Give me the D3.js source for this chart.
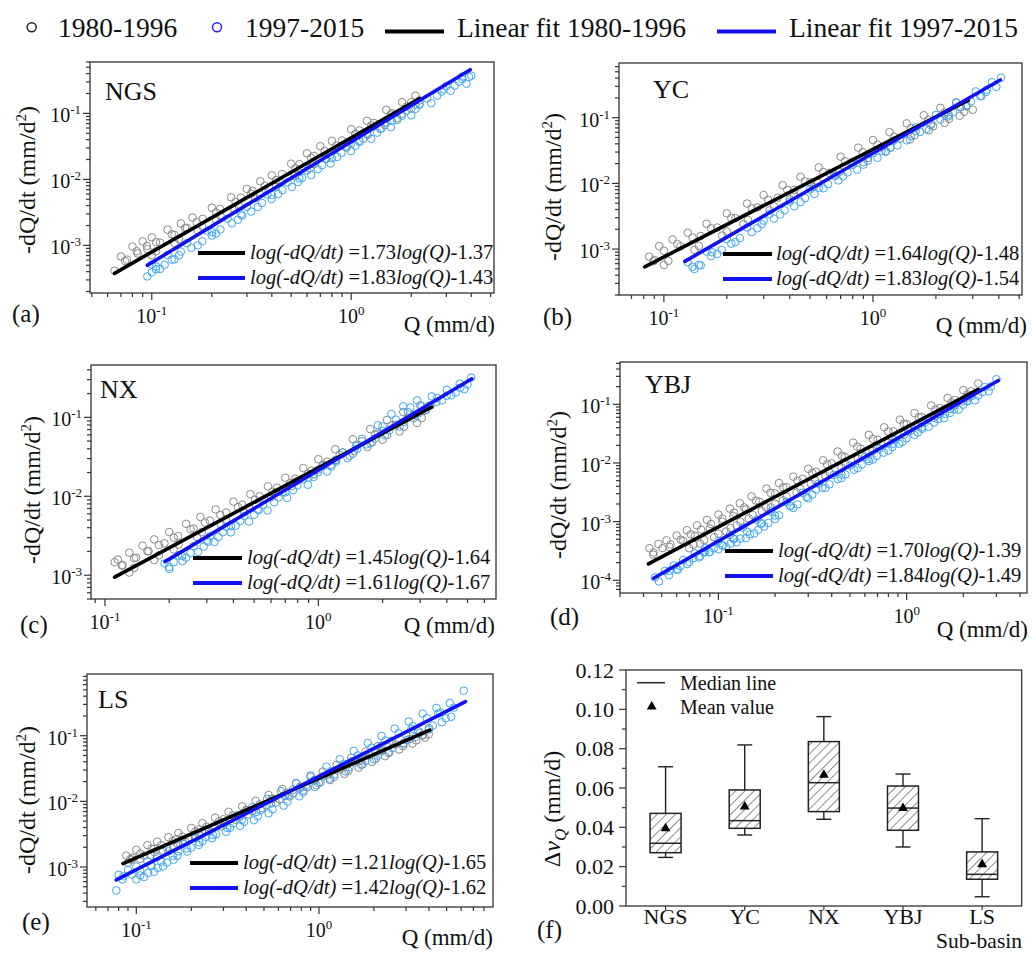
<!DOCTYPE html>
<html><head><meta charset="utf-8">
<script src="https://cdn.jsdelivr.net/npm/d3@7"></script>
<style>
body{margin:0;background:#fff}
svg{display:block}
text{font-family:"Liberation Serif","Times New Roman",Times,serif;fill:#111;white-space:pre}
</style>
</head><body><svg id="chart" width="1032" height="953"></svg>
<script>
// ---------------- DATA ----------------
const basins = ["NGS","YC","NX","YBJ","LS"];
const slope1980 = [1.73,1.64,1.45,1.70,1.21];
const inter1980 = [-1.37,-1.48,-1.64,-1.39,-1.65];
const slope1997 = [1.83,1.83,1.61,1.84,1.42];
const inter1997 = [-1.43,-1.54,-1.67,-1.49,-1.62];
const fitQ1980 = [[0.065,2.2],[0.081,2.86],[0.111,3.4],[0.0425,2.4],[0.0845,4.04]];
const fitQ1997 = [[0.095,3.95],[0.126,4.06],[0.191,5.24],[0.0452,3.07],[0.0777,6.34]];

// recession points [Q (mm/d), -dQ/dt (mm/d2)], read from the point clouds
const ngs1980 = [[0.07,6.8e-4],[0.08,9.6e-4],[0.09,1.15e-3],[0.1,1.32e-3],[0.12,1.73e-3],[0.14,2.15e-3],[0.16,2.65e-3],[0.2,3.72e-3],[0.25,5.36e-3],[0.3,7.16e-3],[0.35,9.35e-3],[0.4,0.0115],[0.5,0.0173],[0.6,0.0249],[0.7,0.0318],[0.8,0.0382],[1.0,0.0575],[1.2,0.0771],[1.5,0.113],[1.8,0.148],[2.1,0.185],
 [0.065,4.13e-4],[0.075,6.08e-4],[0.085,7.53e-4],[0.095,8.75e-4],[0.11,1.1e-3],[0.13,1.44e-3],[0.15,1.84e-3],[0.18,2.52e-3],[0.22,3.56e-3],[0.28,5.28e-3],[0.32,6.67e-3],[0.45,0.012],[0.55,0.017],[0.65,0.0227],[0.9,0.0389],[1.1,0.0551],[1.3,0.0719],[1.6,0.1007],[2.0,0.148],
 [0.1,7.08e-4],[0.13,1.09e-3],[0.17,1.69e-3],[0.21,2.44e-3],[0.26,3.45e-3],[0.33,5.22e-3],[0.42,7.73e-3],[0.52,0.0112],[0.62,0.0148],[0.75,0.0206],[0.95,0.0303],[1.15,0.0412],[1.4,0.0579],[1.7,0.0847],[2.0,0.118],
 [0.0735,5.78e-4],[0.084,8.16e-4],[0.0945,9.78e-4],[0.105,1.12e-3],[0.126,1.47e-3],[0.147,1.83e-3],[0.168,2.25e-3],[0.21,3.16e-3],[0.263,4.56e-3],[0.315,6.09e-3],[0.368,7.95e-3],[0.42,9.78e-3],[0.525,0.0147],[0.63,0.0212],[0.735,0.027],[0.84,0.0325],[1.05,0.0489],[1.26,0.0655],[1.58,0.096],[1.89,0.126],[2.2,0.157],
 [0.105,8.14e-4],[0.137,1.25e-3],[0.179,1.94e-3],[0.221,2.81e-3],[0.273,3.97e-3],[0.347,6.0e-3],[0.441,8.89e-3],[0.546,0.0129],[0.651,0.017],[0.788,0.0237],[0.998,0.0348],[1.21,0.0474],[1.47,0.0666],[1.79,0.0974],[2.1,0.136]];
const ngs1997 = [[0.1,5.13e-4],[0.12,7.16e-4],[0.15,1.08e-3],[0.19,1.66e-3],[0.24,2.54e-3],[0.3,3.83e-3],[0.38,5.9e-3],[0.48,9.04e-3],[0.6,0.0136],[0.75,0.0205],[0.95,0.0316],[1.2,0.0484],[1.5,0.0728],[1.9,0.11],[2.4,0.168],[3.0,0.259],[3.6,0.33],[4.0,0.373],
 [0.095,3.39e-4],[0.11,4.42e-4],[0.13,6.15e-4],[0.17,1.0e-3],[0.21,1.51e-3],[0.27,2.45e-3],[0.34,3.82e-3],[0.43,6.0e-3],[0.54,9.12e-3],[0.68,0.01426],[0.85,0.0219],[1.05,0.0322],[1.35,0.0511],[1.7,0.0796],[2.1,0.117],[2.7,0.186],[3.3,0.263],[3.9,0.356],
 [0.105,4.78e-4],[0.14,8.07e-4],[0.2,1.59e-3],[0.28,2.94e-3],[0.4,5.78e-3],[0.55,0.0103],[0.8,0.021],[1.1,0.0385],[1.6,0.0764],[2.2,0.14],[2.9,0.232],[3.6,0.361],
 [0.105,4.36e-4],[0.126,6.09e-4],[0.158,9.18e-4],[0.2,1.41e-3],[0.252,2.16e-3],[0.315,3.26e-3],[0.399,5.02e-3],[0.504,7.68e-3],[0.63,0.0116],[0.788,0.0174],[0.998,0.0269],[1.26,0.0411],[1.58,0.0619],[2.0,0.0935],[2.52,0.143],[3.15,0.22],[3.78,0.281],
 [0.1,3.9e-4],[0.116,5.08e-4],[0.137,7.07e-4],[0.179,1.15e-3],[0.221,1.74e-3],[0.284,2.82e-3],[0.357,4.39e-3],[0.452,6.9e-3],[0.567,0.0105],[0.714,0.0164],[0.893,0.0252],[1.1,0.037],[1.42,0.0588],[1.79,0.0915],[2.2,0.135],[2.84,0.214],[3.47,0.302]];
const yc1980 = [[0.085,7.66e-4],[0.095,1.11e-3],[0.11,1.4e-3],[0.13,1.77e-3],[0.16,2.43e-3],[0.2,3.5e-3],[0.25,4.93e-3],[0.3,6.64e-3],[0.37,9.38e-3],[0.45,0.0126],[0.55,0.0175],[0.7,0.0255],[0.85,0.035],[1.0,0.0457],[1.2,0.0603],[1.45,0.082],[1.75,0.109],[2.1,0.141],[2.5,0.171],
 [0.09,6.84e-4],[0.12,1.1e-3],[0.15,1.58e-3],[0.18,2.13e-3],[0.22,2.96e-3],[0.28,4.3e-3],[0.35,6.05e-3],[0.42,7.98e-3],[0.5,0.0104],[0.62,0.0144],[0.8,0.0214],[1.1,0.0352],[1.35,0.0482],[1.6,0.0624],[1.9,0.0809],[2.3,0.111],[2.8,0.149],
 [0.1,5.75e-4],[0.14,9.75e-4],[0.19,1.61e-3],[0.24,2.42e-3],[0.32,3.87e-3],[0.4,5.71e-3],[0.52,8.79e-3],[0.66,0.013],[0.9,0.0211],[1.15,0.0309],[1.5,0.0467],[1.85,0.0643],[2.2,0.0834],[2.6,0.107],[3.0,0.132],
 [0.089,6.51e-4],[0.1,9.44e-4],[0.116,1.19e-3],[0.137,1.5e-3],[0.168,2.07e-3],[0.21,2.98e-3],[0.263,4.19e-3],[0.315,5.64e-3],[0.389,7.97e-3],[0.473,0.0107],[0.578,0.0149],[0.735,0.0217],[0.893,0.0298],[1.05,0.0388],[1.26,0.0513],[1.52,0.0697],[1.84,0.0927],[2.2,0.12],[2.63,0.145],
 [0.105,6.61e-4],[0.147,1.12e-3],[0.2,1.85e-3],[0.252,2.78e-3],[0.336,4.45e-3],[0.42,6.57e-3],[0.546,0.0101],[0.693,0.015],[0.945,0.0243],[1.21,0.0355],[1.58,0.0537],[1.94,0.0739],[2.31,0.0959],[2.73,0.123]];
const yc1997 = [[0.13,6.3e-4],[0.16,9.18e-4],[0.2,1.42e-3],[0.25,2.13e-3],[0.32,3.42e-3],[0.4,5.27e-3],[0.5,8.11e-3],[0.65,0.0131],[0.8,0.0191],[1.0,0.0288],[1.25,0.0445],[1.6,0.0713],[2.0,0.11],[2.5,0.169],[3.1,0.251],[3.7,0.346],[4.1,0.408],
 [0.14,4.98e-4],[0.15,5.65e-4],[0.18,8.45e-4],[0.22,1.28e-3],[0.28,2.08e-3],[0.36,3.37e-3],[0.45,5.19e-3],[0.58,8.43e-3],[0.72,0.0128],[0.9,0.0193],[1.15,0.0303],[1.45,0.0452],[1.8,0.0671],[2.3,0.105],[2.8,0.154],[3.3,0.214],
 [0.17,8.93e-4],[0.3,2.71e-3],[0.55,8.59e-3],[1.1,0.0313],[2.2,0.111],[3.5,0.267],
 [0.137,5.36e-4],[0.168,7.8e-4],[0.21,1.21e-3],[0.263,1.81e-3],[0.336,2.91e-3],[0.42,4.48e-3],[0.525,6.89e-3],[0.683,0.0111],[0.84,0.0162],[1.05,0.0245],[1.31,0.0378],[1.68,0.0606],[2.1,0.0935],[2.63,0.144],[3.26,0.213],[3.89,0.294],
 [0.147,5.73e-4],[0.189,9.72e-4],[0.231,1.47e-3],[0.294,2.39e-3],[0.378,3.88e-3],[0.473,5.97e-3],[0.609,9.69e-3],[0.756,0.0147],[0.945,0.0222],[1.21,0.0348],[1.52,0.052],[1.89,0.0772],[2.42,0.121],[2.94,0.177],[3.47,0.246]];
const nx1980 = [[0.111,1.46e-3],[0.115,1.58e-3],[0.13,1.93e-3],[0.15,2.37e-3],[0.17,2.84e-3],[0.2,3.52e-3],[0.24,4.48e-3],[0.28,5.47e-3],[0.33,6.81e-3],[0.4,8.57e-3],[0.48,0.01064],[0.58,0.01337],[0.7,0.01718],[0.85,0.02275],[1.0,0.0295],[1.2,0.0394],[1.45,0.0528],[1.75,0.0711],[2.1,0.0927],[2.5,0.1167],[3.0,0.142],
 [0.12,1.33e-3],[0.14,1.67e-3],[0.16,2.02e-3],[0.19,2.54e-3],[0.22,3.13e-3],[0.26,3.91e-3],[0.31,4.92e-3],[0.37,6.22e-3],[0.44,7.8e-3],[0.53,0.01],[0.64,0.01285],[0.78,0.0167],[0.93,0.0211],[1.1,0.0275],[1.3,0.0359],[1.6,0.0497],[1.9,0.0624],[2.3,0.0804],[2.8,0.1067],[3.3,0.139],
 [0.13,1.08e-3],[0.17,1.56e-3],[0.21,2.12e-3],[0.27,3.05e-3],[0.35,4.36e-3],[0.45,6.27e-3],[0.6,9.73e-3],[0.75,0.01346],[0.95,0.01897],[1.15,0.025],[1.4,0.0325],[1.7,0.0421],[2.0,0.052],[2.4,0.0662],[2.9,0.0851],
 [0.121,1.34e-3],[0.137,1.64e-3],[0.158,2.01e-3],[0.179,2.41e-3],[0.21,2.99e-3],[0.252,3.81e-3],[0.294,4.65e-3],[0.347,5.79e-3],[0.42,7.28e-3],[0.504,9.04e-3],[0.609,0.0114],[0.735,0.0146],[0.893,0.0193],[1.05,0.0251],[1.26,0.0335],[1.52,0.0449],[1.84,0.0604],[2.2,0.0788],[2.63,0.0992],[3.15,0.121],
 [0.137,1.24e-3],[0.179,1.79e-3],[0.221,2.44e-3],[0.284,3.51e-3],[0.368,5.01e-3],[0.473,7.21e-3],[0.63,0.0112],[0.788,0.0155],[0.998,0.0218],[1.21,0.0288],[1.47,0.0374],[1.79,0.0484],[2.1,0.0598],[2.52,0.0761],[3.05,0.0979]];
const nx1997 = [[0.19,1.41e-3],[0.22,1.78e-3],[0.26,2.33e-3],[0.31,3.1e-3],[0.37,4.11e-3],[0.45,5.64e-3],[0.55,7.78e-3],[0.68,0.01125],[0.85,0.01644],[1.05,0.0242],[1.3,0.0358],[1.6,0.0535],[1.9,0.0793],[2.2,0.11],[2.5,0.138],[2.9,0.1637],[3.4,0.184],[4.0,0.223],[4.6,0.267],[5.2,0.318],
 [0.2,1.27e-3],[0.24,1.67e-3],[0.29,2.31e-3],[0.34,3.05e-3],[0.41,4.24e-3],[0.5,5.82e-3],[0.62,8.41e-3],[0.76,0.01197],[0.95,0.01758],[1.15,0.02388],[1.45,0.0346],[1.75,0.0469],[2.05,0.0592],[2.4,0.0762],[2.8,0.0977],[3.2,0.1239],[3.8,0.1637],[4.4,0.2065],[5.0,0.26],
 [0.23,1.75e-3],[0.3,2.74e-3],[0.39,4.19e-3],[0.52,6.81e-3],[0.7,0.01122],[0.9,0.01722],[1.2,0.0286],[1.5,0.043],[2.0,0.0767],[2.7,0.133],[3.6,0.176],
 [0.2,1.2e-3],[0.231,1.51e-3],[0.273,1.98e-3],[0.326,2.64e-3],[0.389,3.49e-3],[0.473,4.79e-3],[0.578,6.61e-3],[0.714,9.56e-3],[0.893,0.014],[1.1,0.0206],[1.37,0.0304],[1.68,0.0455],[2.0,0.0674],[2.31,0.0935],[2.63,0.117],[3.05,0.139],[3.57,0.156],[4.2,0.19],[4.83,0.227],
 [0.21,1.46e-3],[0.252,1.92e-3],[0.305,2.66e-3],[0.357,3.51e-3],[0.431,4.88e-3],[0.525,6.69e-3],[0.651,9.67e-3],[0.798,0.0138],[0.998,0.0202],[1.21,0.0275],[1.52,0.0398],[1.84,0.0539],[2.15,0.0681],[2.52,0.0876],[2.94,0.112],[3.36,0.142],[3.99,0.188],[4.62,0.237]];
const ybj1980 = [[0.043,3.52e-4],[0.048,4.15e-4],[0.053,4.8e-4],[0.06,5.79e-4],[0.068,7.14e-4],[0.077,8.63e-4],[0.087,1.07e-3],[0.1,1.32e-3],[0.115,1.67e-3],[0.13,2.06e-3],[0.15,2.69e-3],[0.18,3.66e-3],[0.21,4.54e-3],[0.25,5.85e-3],[0.3,7.96e-3],[0.36,0.0111],[0.43,0.0157],[0.52,0.0222],[0.63,0.0301],[0.76,0.0406],[0.92,0.0548],[1.1,0.0708],[1.35,0.0957],[1.65,0.1285],[2.0,0.1746],[2.4,0.227],
 [0.045,2.75e-4],[0.055,3.7e-4],[0.065,4.7e-4],[0.075,5.71e-4],[0.09,7.62e-4],[0.105,9.91e-4],[0.12,1.24e-3],[0.14,1.61e-3],[0.165,2.18e-3],[0.2,3.03e-3],[0.23,3.85e-3],[0.28,5.37e-3],[0.33,7.11e-3],[0.4,9.84e-3],[0.47,0.01265],[0.57,0.01758],[0.7,0.0249],[0.85,0.0346],[1.0,0.0457],[1.2,0.0608],[1.5,0.0869],[1.8,0.1186],[2.2,0.1663],
 [0.07,3.52e-4],[0.08,4.22e-4],[0.095,5.41e-4],[0.11,6.76e-4],[0.125,8.61e-4],[0.145,1.13e-3],[0.17,1.52e-3],[0.19,1.75e-3],[0.22,2.3e-3],[0.26,3.13e-3],[0.31,4.42e-3],[0.37,5.97e-3],[0.45,8.32e-3],[0.55,0.0117],[0.66,0.016],[0.8,0.0221],[0.97,0.0308],[1.15,0.0421],[1.4,0.0586],[1.7,0.0834],[2.0,0.1127],
 [0.0452,2.99e-4],[0.0504,3.53e-4],[0.0557,4.08e-4],[0.063,4.92e-4],[0.0714,6.07e-4],[0.0809,7.34e-4],[0.0914,9.1e-4],[0.105,1.12e-3],[0.121,1.42e-3],[0.137,1.75e-3],[0.158,2.29e-3],[0.189,3.11e-3],[0.221,3.86e-3],[0.263,4.97e-3],[0.315,6.77e-3],[0.378,9.44e-3],[0.452,0.0133],[0.546,0.0189],[0.662,0.0256],[0.798,0.0345],[0.966,0.0466],[1.16,0.0602],[1.42,0.0813],[1.73,0.109],[2.1,0.148],
 [0.0735,4.05e-4],[0.084,4.85e-4],[0.1,6.22e-4],[0.116,7.77e-4],[0.131,9.9e-4],[0.152,1.3e-3],[0.179,1.75e-3],[0.2,2.01e-3],[0.231,2.65e-3],[0.273,3.6e-3],[0.326,5.08e-3],[0.389,6.87e-3],[0.473,9.57e-3],[0.578,0.0135],[0.693,0.0184],[0.84,0.0254],[1.02,0.0354],[1.21,0.0484],[1.47,0.0674],[1.79,0.0959],[2.1,0.13]];
const ybj1997 = [[0.046,1.12e-4],[0.052,1.44e-4],[0.058,1.79e-4],[0.065,2.22e-4],[0.075,2.88e-4],[0.085,3.54e-4],[0.1,4.68e-4],[0.115,5.92e-4],[0.135,7.93e-4],[0.16,1.08e-3],[0.19,1.49e-3],[0.23,2.17e-3],[0.28,3.1e-3],[0.34,4.44e-3],[0.41,6.28e-3],[0.5,9.04e-3],[0.6,0.01265],[0.72,0.01766],[0.87,0.0251],[1.05,0.0354],[1.25,0.0488],[1.5,0.0682],[1.8,0.0953],[2.2,0.1377],[2.6,0.1968],[3.0,0.268],
 [0.06,1.52e-4],[0.07,2.07e-4],[0.08,2.58e-4],[0.09,3.05e-4],[0.1,3.39e-4],[0.11,3.67e-4],[0.125,4.45e-4],[0.14,5.24e-4],[0.155,6.31e-4],[0.175,8.26e-4],[0.2,1.11e-3],[0.25,1.71e-3],[0.3,2.5e-3],[0.37,3.76e-3],[0.45,5.52e-3],[0.55,8.17e-3],[0.66,0.01146],[0.8,0.0163],[0.95,0.0229],[1.15,0.0333],[1.4,0.0489],[1.7,0.0713],[2.0,0.0986],[2.4,0.141],
 [0.055,1.45e-4],[0.085,3.08e-4],[0.12,5.19e-4],[0.17,9.4e-4],[0.24,1.86e-3],[0.33,3.51e-3],[0.45,6.34e-3],[0.62,0.01167],[0.85,0.0213],[1.2,0.0403],[1.6,0.0684],[2.1,0.1153],[2.8,0.2005],
 [0.0483,9.52e-5],[0.0546,1.22e-4],[0.0609,1.52e-4],[0.0683,1.89e-4],[0.0788,2.45e-4],[0.0893,3.01e-4],[0.105,3.98e-4],[0.121,5.03e-4],[0.142,6.74e-4],[0.168,9.18e-4],[0.2,1.27e-3],[0.242,1.84e-3],[0.294,2.64e-3],[0.357,3.77e-3],[0.431,5.34e-3],[0.525,7.68e-3],[0.63,0.0108],[0.756,0.015],[0.914,0.0213],[1.1,0.0301],[1.31,0.0415],[1.58,0.058],[1.89,0.081],[2.31,0.117],[2.73,0.167],
 [0.063,1.75e-4],[0.0735,2.38e-4],[0.084,2.97e-4],[0.0945,3.51e-4],[0.105,3.9e-4],[0.116,4.22e-4],[0.131,5.12e-4],[0.147,6.03e-4],[0.163,7.26e-4],[0.184,9.5e-4],[0.21,1.28e-3],[0.263,1.97e-3],[0.315,2.88e-3],[0.389,4.32e-3],[0.473,6.35e-3],[0.578,9.4e-3],[0.693,0.0132],[0.84,0.0187],[0.998,0.0263],[1.21,0.0383],[1.47,0.0562],[1.79,0.082],[2.1,0.113],[2.52,0.162]];
const ls1980 = [[0.088,1.49e-3],[0.1,1.82e-3],[0.115,2.16e-3],[0.13,2.44e-3],[0.15,2.84e-3],[0.17,3.3e-3],[0.2,3.93e-3],[0.23,4.66e-3],[0.27,5.65e-3],[0.32,6.93e-3],[0.38,8.36e-3],[0.45,0.01023],[0.53,0.01247],[0.63,0.01538],[0.75,0.01901],[0.9,0.02366],[1.05,0.0285],[1.25,0.0361],[1.5,0.046],[1.8,0.0574],[2.1,0.0692],[2.5,0.0836],[3.0,0.1016],[3.5,0.1169],[4.0,0.1312],
 [0.09,1.16e-3],[0.105,1.33e-3],[0.12,1.5e-3],[0.14,1.77e-3],[0.16,2.03e-3],[0.185,2.42e-3],[0.21,2.82e-3],[0.25,3.48e-3],[0.29,4.16e-3],[0.35,5.22e-3],[0.41,6.34e-3],[0.49,7.85e-3],[0.58,9.61e-3],[0.69,0.01189],[0.82,0.01466],[0.97,0.01754],[1.15,0.0211],[1.38,0.0262],[1.65,0.0326],[1.95,0.0399],[2.3,0.0488],[2.75,0.0618],[3.25,0.0759],[3.8,0.0938],
 [0.095,1.39e-3],[0.125,1.89e-3],[0.165,2.65e-3],[0.22,3.75e-3],[0.3,5.33e-3],[0.4,7.38e-3],[0.55,0.01084],[0.72,0.01503],[0.95,0.02104],[1.3,0.03076],[1.7,0.04246],[2.2,0.05808],[2.9,0.07745],[3.7,0.1016],
 [0.0924,1.31e-3],[0.105,1.6e-3],[0.121,1.9e-3],[0.137,2.15e-3],[0.158,2.5e-3],[0.179,2.9e-3],[0.21,3.46e-3],[0.242,4.1e-3],[0.284,4.97e-3],[0.336,6.1e-3],[0.399,7.36e-3],[0.473,9.0e-3],[0.557,0.011],[0.662,0.0135],[0.788,0.0167],[0.945,0.0208],[1.1,0.0251],[1.31,0.0318],[1.58,0.0405],[1.89,0.0505],[2.2,0.0609],[2.63,0.0736],[3.15,0.0894],[3.68,0.103],
 [0.0945,1.3e-3],[0.11,1.49e-3],[0.126,1.68e-3],[0.147,1.98e-3],[0.168,2.27e-3],[0.194,2.71e-3],[0.221,3.16e-3],[0.263,3.9e-3],[0.305,4.66e-3],[0.368,5.85e-3],[0.431,7.1e-3],[0.515,8.79e-3],[0.609,0.0108],[0.725,0.0133],[0.861,0.0164],[1.02,0.0196],[1.21,0.0236],[1.45,0.0293],[1.73,0.0365],[2.05,0.0447],[2.42,0.0547],[2.89,0.0692],[3.41,0.085],[3.99,0.105]];
const ls1997 = [[0.08,7.62e-4],[0.09,9.02e-4],[0.1,1.02e-3],[0.115,1.22e-3],[0.13,1.42e-3],[0.15,1.74e-3],[0.18,2.25e-3],[0.21,2.8e-3],[0.25,3.59e-3],[0.3,4.65e-3],[0.36,6.17e-3],[0.43,8.11e-3],[0.52,0.01089],[0.62,0.01429],[0.75,0.0187],[0.9,0.02483],[1.1,0.03373],[1.3,0.04385],[1.55,0.0589],[1.85,0.0774],[2.2,0.0991],[2.6,0.1285],[3.1,0.1648],[3.7,0.2173],[4.4,0.2649],[5.2,0.3141],[6.2,0.4842],
 [0.0777,4.4e-4],[0.1,6.46e-4],[0.11,7.05e-4],[0.125,8.47e-4],[0.14,1.02e-3],[0.16,1.29e-3],[0.19,1.72e-3],[0.22,2.17e-3],[0.26,2.75e-3],[0.31,3.44e-3],[0.37,4.24e-3],[0.44,5.16e-3],[0.53,6.58e-3],[0.64,8.61e-3],[0.78,0.01194],[0.95,0.01656],[1.15,0.02223],[1.4,0.02864],[1.7,0.03606],[2.0,0.04335],[2.4,0.05623],[2.9,0.07516],[3.4,0.09638],[4.0,0.1245],[4.7,0.16],[5.3,0.1941],
 [0.085,7.23e-4],[0.12,1.05e-3],[0.17,1.73e-3],[0.24,2.88e-3],[0.34,4.61e-3],[0.48,7.36e-3],[0.68,0.0124],[0.85,0.01734],[1.05,0.024],[1.5,0.0407],[2.2,0.0702],[3.2,0.125],[4.5,0.2173],
 [0.084,6.48e-4],[0.0945,7.67e-4],[0.105,8.67e-4],[0.121,1.04e-3],[0.137,1.21e-3],[0.158,1.48e-3],[0.189,1.91e-3],[0.221,2.38e-3],[0.263,3.05e-3],[0.315,3.95e-3],[0.378,5.24e-3],[0.452,6.89e-3],[0.546,9.26e-3],[0.651,0.0121],[0.788,0.0159],[0.945,0.0211],[1.16,0.0287],[1.37,0.0373],[1.63,0.0501],[1.94,0.0658],[2.31,0.0842],[2.73,0.109],[3.26,0.14],[3.89,0.185],[4.62,0.225],[5.46,0.267],
 [0.105,7.43e-4],[0.116,8.11e-4],[0.131,9.74e-4],[0.147,1.17e-3],[0.168,1.48e-3],[0.2,1.98e-3],[0.231,2.5e-3],[0.273,3.16e-3],[0.326,3.96e-3],[0.389,4.88e-3],[0.462,5.93e-3],[0.557,7.57e-3],[0.672,9.9e-3],[0.819,0.0137],[0.998,0.019],[1.21,0.0256],[1.47,0.0329],[1.79,0.0415],[2.1,0.0499],[2.52,0.0647],[3.05,0.0864],[3.57,0.111],[4.2,0.143],[4.94,0.184]];

const points1980 = [ngs1980, yc1980, nx1980, ybj1980, ls1980];
const points1997 = [ngs1997, yc1997, nx1997, ybj1997, ls1997];

// box plot (f): delta v_Q (mm/d)
const boxCats = ["NGS","YC","NX","YBJ","LS"];
const whiskerLow = [0.0247,0.0361,0.0441,0.0300,0.0047];
const quart1 = [0.0271,0.0395,0.0480,0.0385,0.0136];
const medianV = [0.0319,0.0434,0.0627,0.0498,0.0161];
const quart3 = [0.0471,0.0590,0.0836,0.0610,0.0275];
const whiskerHigh = [0.0708,0.0819,0.0963,0.0671,0.0444];
const meanV = [0.0395,0.0505,0.0666,0.0497,0.0212];
const boxTicks = [0,0.02,0.04,0.06,0.08,0.10,0.12];

// ---------------- LAYOUT ----------------
const panelCfg = [
 {tag:"(a)", box:[90,62,494,293], xd:[0.049,5.2], yd:[1.9e-4,0.6], name:[105,100], tagXY:[12,322], yT:[27,180], eqL:[198,245], eqX:250, eqY:[253,278], qLab:[495,332]},
 {tag:"(b)", box:[619,63,1022,295], xd:[0.061,5.16], yd:[2.0e-4,0.68], name:[653,98], tagXY:[543,325], yT:[553,187], eqL:[723,772], eqX:776, eqY:[254,279], qLab:[1027,333]},
 {tag:"(c)", box:[91,365,496,599], xd:[0.086,6.8], yd:[5.0e-4,0.46], name:[100,398], tagXY:[20,633], yT:[32,490], eqL:[193,242], eqX:247, eqY:[558,583], qLab:[495,633]},
 {tag:"(d)", box:[620,362,1027,593], xd:[0.030,4.36], yd:[6.07e-5,0.527], name:[645,393], tagXY:[550,625], yT:[558,485], eqL:[725,773], eqX:778, eqY:[551,576], qLab:[1028,637]},
 {tag:"(e)", box:[87,674,493,907], xd:[0.0537,8.97], yd:[2.46e-4,0.871], name:[98,708], tagXY:[22,930], yT:[27,800], eqL:[190,238], eqX:243, eqY:[863,888], qLab:[493,945]}
];

const GRAY = "#8a8a8a", LBLUE = "#3fa8f2", FITBLUE = "#1212f0", AX = "#333";
const svg = d3.select("#chart");

function isMajor(t){ const l = Math.log10(t); return Math.abs(l - Math.round(l)) < 1e-6; }
function powLabel(sel, exp){
  sel.append("tspan").text("10");
  sel.append("tspan").attr("font-size",13).attr("dy",-8).text(String(exp));
}

panelCfg.forEach((cfg,i)=>{
  const [x0,y0,x1,y1] = cfg.box;
  const x = d3.scaleLog().domain(cfg.xd).range([x0,x1]);
  const y = d3.scaleLog().domain(cfg.yd).range([y1,y0]);
  const g = svg.append("g");

  g.append("g").selectAll("circle").data(points1980[i]).join("circle")
    .attr("cx",d=>x(d[0])).attr("cy",d=>y(d[1])).attr("r",3.8)
    .attr("fill","none").attr("stroke",GRAY).attr("stroke-width",1);
  g.append("g").selectAll("circle").data(points1997[i]).join("circle")
    .attr("cx",d=>x(d[0])).attr("cy",d=>y(d[1])).attr("r",3.8)
    .attr("fill","none").attr("stroke",LBLUE).attr("stroke-width",1);

  const fit = (s,b,q)=>Math.pow(10, s*Math.log10(q)+b);
  [[fitQ1980[i],slope1980[i],inter1980[i],"#000"],[fitQ1997[i],slope1997[i],inter1997[i],FITBLUE]].forEach(([r,s,b,c])=>{
    g.append("line").attr("x1",x(r[0])).attr("y1",y(fit(s,b,r[0])))
      .attr("x2",x(r[1])).attr("y2",y(fit(s,b,r[1])))
      .attr("stroke",c).attr("stroke-width",3.6).attr("stroke-linecap","round");
  });

  g.append("rect").attr("x",x0).attr("y",y0).attr("width",x1-x0).attr("height",y1-y0)
    .attr("fill","none").attr("stroke",AX).attr("stroke-width",1.3);

  x.ticks().forEach(t=>{
    const M = isMajor(t);
    g.append("line").attr("x1",x(t)).attr("x2",x(t)).attr("y1",y1).attr("y2",y1+(M?7:4))
      .attr("stroke",AX).attr("stroke-width",1.2);
    if(M){
      const tx = g.append("text").attr("x",x(t)).attr("y",y1+30).attr("font-size",20).attr("text-anchor","middle");
      powLabel(tx, Math.round(Math.log10(t)));
    }
  });
  y.ticks().forEach(t=>{
    const M = isMajor(t);
    g.append("line").attr("y1",y(t)).attr("y2",y(t)).attr("x1",x0).attr("x2",x0-(M?7:4))
      .attr("stroke",AX).attr("stroke-width",1.2);
    if(M){
      const ty = g.append("text").attr("x",x0-9).attr("y",y(t)+9).attr("font-size",20).attr("text-anchor","end");
      powLabel(ty, Math.round(Math.log10(t)));
    }
  });

  g.append("text").attr("x",cfg.name[0]).attr("y",cfg.name[1]).attr("font-size",26).text(basins[i]);
  g.append("text").attr("x",cfg.tagXY[0]).attr("y",cfg.tagXY[1]).attr("font-size",25).text(cfg.tag);
  g.append("text").attr("x",cfg.qLab[0]).attr("y",cfg.qLab[1]).attr("font-size",23).attr("text-anchor","end").text("Q (mm/d)");
  const yt = g.append("text").attr("transform",`translate(${cfg.yT[0]},${cfg.yT[1]}) rotate(-90)`)
    .attr("text-anchor","middle").attr("dy","0.35em").attr("font-size",24);
  yt.append("tspan").text("-dQ/dt (mm/d");
  yt.append("tspan").attr("font-size",15).attr("dy",-9).text("2");
  yt.append("tspan").attr("dy",9).text(")");

  [[slope1980[i],inter1980[i],"#000",cfg.eqY[0]],[slope1997[i],inter1997[i],FITBLUE,cfg.eqY[1]]].forEach(([s,b,c,yy])=>{
    g.append("line").attr("x1",cfg.eqL[0]).attr("x2",cfg.eqL[1]).attr("y1",yy).attr("y2",yy)
      .attr("stroke",c).attr("stroke-width",4);
    const t = g.append("text").attr("x",cfg.eqX).attr("y",yy+6).attr("font-size",20.5);
    t.append("tspan").attr("font-style","italic").text("log(-dQ/dt)");
    t.append("tspan").text(" =" + s.toFixed(2));
    t.append("tspan").attr("font-style","italic").text("log(Q)");
    t.append("tspan").text(b.toFixed(2));
  });
});

// ---------------- BOX PLOT (f) ----------------
(function(){
  const fx = d3.scaleBand().domain(boxCats).range([626,1021.7]);
  const fy = d3.scaleLinear().domain([0,0.12]).range([906,670]);
  const g = svg.append("g");
  const defs = svg.append("defs");
  const pat = defs.append("pattern").attr("id","hatch").attr("patternUnits","userSpaceOnUse")
    .attr("width",6.5).attr("height",6.5).attr("patternTransform","rotate(45)");
  pat.append("rect").attr("width",6.5).attr("height",6.5).attr("fill","#fff");
  pat.append("line").attr("x1",0).attr("y1",0).attr("x2",0).attr("y2",6.5).attr("stroke","#333").attr("stroke-width",1.1);

  const bw = 31, cw = 15;
  boxCats.forEach((c,i)=>{
    const cx = fx(c)+fx.bandwidth()/2;
    g.append("line").attr("x1",cx).attr("x2",cx).attr("y1",fy(whiskerHigh[i])).attr("y2",fy(quart3[i])).attr("stroke","#222").attr("stroke-width",1.4);
    g.append("line").attr("x1",cx).attr("x2",cx).attr("y1",fy(whiskerLow[i])).attr("y2",fy(quart1[i])).attr("stroke","#222").attr("stroke-width",1.4);
    g.append("line").attr("x1",cx-cw/2).attr("x2",cx+cw/2).attr("y1",fy(whiskerHigh[i])).attr("y2",fy(whiskerHigh[i])).attr("stroke","#222").attr("stroke-width",1.4);
    g.append("line").attr("x1",cx-cw/2).attr("x2",cx+cw/2).attr("y1",fy(whiskerLow[i])).attr("y2",fy(whiskerLow[i])).attr("stroke","#222").attr("stroke-width",1.4);
    g.append("rect").attr("x",cx-bw/2).attr("y",fy(quart3[i])).attr("width",bw).attr("height",fy(quart1[i])-fy(quart3[i]))
      .attr("fill","url(#hatch)").attr("stroke","#222").attr("stroke-width",1.5);
    g.append("line").attr("x1",cx-bw/2).attr("x2",cx+bw/2).attr("y1",fy(medianV[i])).attr("y2",fy(medianV[i])).attr("stroke","#222").attr("stroke-width",1.5);
    g.append("path").attr("d",d3.symbol(d3.symbolTriangle,42)()).attr("transform",`translate(${cx},${fy(meanV[i])})`).attr("fill","#000");
    g.append("line").attr("x1",cx).attr("x2",cx).attr("y1",906).attr("y2",910).attr("stroke",AX).attr("stroke-width",1.2);
    g.append("text").attr("x",cx).attr("y",924).attr("font-size",22).attr("text-anchor","middle").text(c);
  });
  g.append("rect").attr("x",626).attr("y",670).attr("width",1021.7-626).attr("height",236)
    .attr("fill","none").attr("stroke",AX).attr("stroke-width",1.3);
  d3.range(0,0.1201,0.01).forEach((t,k)=>{
    const M = k%2===0;
    g.append("line").attr("x1",626).attr("x2",626-(M?7:4)).attr("y1",fy(t)).attr("y2",fy(t)).attr("stroke",AX).attr("stroke-width",1.2);
  });
  boxTicks.forEach(t=>{
    g.append("text").attr("x",614).attr("y",fy(t)+7.5).attr("font-size",22).attr("text-anchor","end").text(t.toFixed(2));
  });
  const yt = g.append("text").attr("transform","translate(552,809) rotate(-90)").attr("text-anchor","middle").attr("dy","0.35em").attr("font-size",24);
  yt.append("tspan").text("\u0394");
  yt.append("tspan").attr("font-style","italic").text("v");
  yt.append("tspan").attr("font-style","italic").attr("font-size",17).attr("dy",6).text("Q");
  yt.append("tspan").attr("dy",-6).text(" (mm/d)");
  g.append("text").attr("x",1022).attr("y",948).attr("font-size",21.5).attr("text-anchor","end").text("Sub-basin");
  g.append("text").attr("x",537).attr("y",938).attr("font-size",25).text("(f)");
  g.append("line").attr("x1",637).attr("x2",665).attr("y1",682.7).attr("y2",682.7).attr("stroke","#222").attr("stroke-width",1.5);
  g.append("text").attr("x",680).attr("y",689.5).attr("font-size",20).text("Median line");
  g.append("path").attr("d",d3.symbol(d3.symbolTriangle,42)()).attr("transform","translate(651.7,706.7)").attr("fill","#000");
  g.append("text").attr("x",680).attr("y",714).attr("font-size",20).text("Mean value");
})();

// ---------------- TOP LEGEND ----------------
(function(){
  const g = svg.append("g");
  g.append("circle").attr("cx",31.7).attr("cy",27.3).attr("r",4.5).attr("fill","none").attr("stroke","#222").attr("stroke-width",1.5);
  g.append("text").attr("x",58).attr("y",36.7).attr("font-size",27.5).text("1980-1996");
  g.append("circle").attr("cx",217).attr("cy",27.3).attr("r",4.5).attr("fill","none").attr("stroke","#2020ff").attr("stroke-width",1.5);
  g.append("text").attr("x",245).attr("y",36.7).attr("font-size",27.5).text("1997-2015");
  g.append("line").attr("x1",385).attr("x2",444).attr("y1",31.5).attr("y2",31.5).attr("stroke","#000").attr("stroke-width",4);
  g.append("text").attr("x",457).attr("y",36.7).attr("font-size",27.5).text("Linear fit 1980-1996");
  g.append("line").attr("x1",717).attr("x2",776).attr("y1",31.5).attr("y2",31.5).attr("stroke",FITBLUE).attr("stroke-width",4);
  g.append("text").attr("x",789).attr("y",36.7).attr("font-size",27.5).text("Linear fit 1997-2015");
})();
</script>
</body></html>
